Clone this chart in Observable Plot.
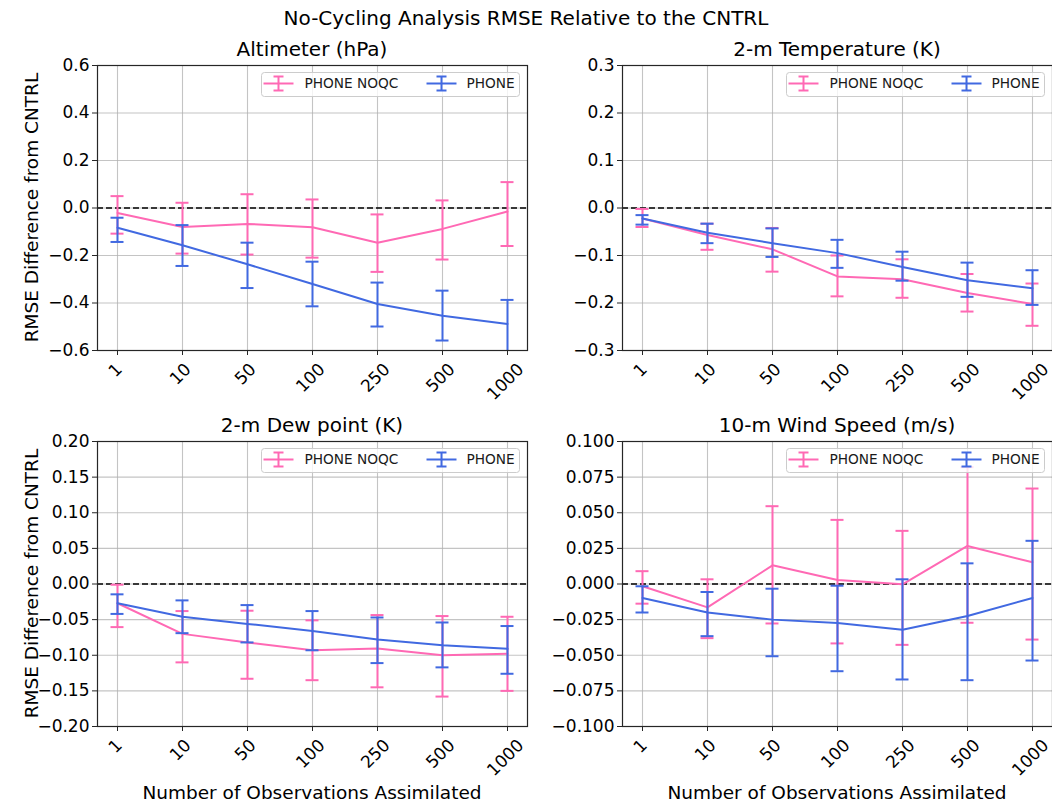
<!DOCTYPE html>
<html><head><meta charset="utf-8">
<script src="https://cdn.jsdelivr.net/npm/d3@7"></script>
<script src="https://cdn.jsdelivr.net/npm/@observablehq/plot@0.6"></script>
<style>
html,body{margin:0;padding:0;background:#fff;overflow:hidden;}
#page{position:relative;width:1052px;height:804px;overflow:hidden;font-family:"DejaVu Sans",sans-serif;background:#fff;}
#page svg{position:absolute;overflow:visible;}
</style></head><body><div id="page"></div>
<script>
// ---------- data ----------
const observations = ["1", "10", "50", "100", "250", "500", "1000"];
const seriesNames = ["PHONE NOQC", "PHONE"];

const altTicks = [-0.6, -0.4, -0.2, 0.0, 0.2, 0.4, 0.6];
const altNoqc   = [-0.021, -0.080, -0.067, -0.081, -0.146, -0.088, -0.015];
const altNoqcLo = [-0.108, -0.192, -0.196, -0.209, -0.269, -0.217, -0.160];
const altNoqcHi = [0.050, 0.022, 0.058, 0.036, -0.027, 0.032, 0.109];
const altPhone   = [-0.083, -0.157, -0.237, -0.320, -0.404, -0.454, -0.488];
const altPhoneLo = [-0.143, -0.244, -0.337, -0.414, -0.499, -0.558, -0.620];
const altPhoneHi = [-0.041, -0.072, -0.146, -0.226, -0.314, -0.348, -0.387];

const tmpTicks = [-0.3, -0.2, -0.1, 0.0, 0.1, 0.2, 0.3];
const tmpNoqc   = [-0.022, -0.057, -0.087, -0.144, -0.150, -0.179, -0.202];
const tmpNoqcLo = [-0.040, -0.088, -0.134, -0.186, -0.189, -0.218, -0.248];
const tmpNoqcHi = [-0.002, -0.033, -0.042, -0.100, -0.108, -0.139, -0.159];
const tmpPhone   = [-0.022, -0.052, -0.074, -0.095, -0.124, -0.152, -0.169];
const tmpPhoneLo = [-0.035, -0.074, -0.103, -0.126, -0.153, -0.187, -0.204];
const tmpPhoneHi = [-0.015, -0.033, -0.043, -0.067, -0.092, -0.115, -0.131];

const dewTicks = [-0.20, -0.15, -0.10, -0.05, 0.00, 0.05, 0.10, 0.15, 0.20];
const dewNoqc   = [-0.027, -0.070, -0.082, -0.093, -0.0905, -0.100, -0.098];
const dewNoqcLo = [-0.0605, -0.110, -0.133, -0.135, -0.145, -0.158, -0.150];
const dewNoqcHi = [-0.001, -0.038, -0.0375, -0.051, -0.0436, -0.045, -0.046];
const dewPhone   = [-0.027, -0.046, -0.056, -0.066, -0.078, -0.086, -0.091];
const dewPhoneLo = [-0.042, -0.069, -0.082, -0.093, -0.111, -0.117, -0.126];
const dewPhoneHi = [-0.0145, -0.023, -0.0296, -0.038, -0.047, -0.054, -0.059];

const wndTicks = [-0.100, -0.075, -0.050, -0.025, 0.000, 0.025, 0.050, 0.075, 0.100];
const wndNoqc   = [-0.0016, -0.0164, 0.0131, 0.0028, -0.0002, 0.0267, 0.0152];
const wndNoqcLo = [-0.0138, -0.038, -0.0277, -0.0417, -0.0427, -0.0272, -0.039];
const wndNoqcHi = [0.009, 0.0033, 0.0546, 0.045, 0.0373, 0.082, 0.067];
const wndPhone   = [-0.0098, -0.020, -0.025, -0.0274, -0.0321, -0.0225, -0.0098];
const wndPhoneLo = [-0.020, -0.0366, -0.0507, -0.0612, -0.067, -0.0675, -0.0537];
const wndPhoneHi = [-0.0016, -0.0056, -0.0033, -0.0012, 0.0033, 0.0145, 0.0303];

// ---------- layout / style ----------
const PINK = "#ff69b4", BLUE = "#4169e1";
const FONT = "DejaVu Sans";
const FW = 430, FH = 285;
const ML = 80, MR = 12, MT = 30, MB = 70;

const panels = [
  {title: "Altimeter (hPa)", fx: 97, fy: 65, ticks: altTicks, fmt: ".1f",
   noqc: [altNoqc, altNoqcLo, altNoqcHi], phone: [altPhone, altPhoneLo, altPhoneHi], ylab: true, xlab: false},
  {title: "2-m Temperature (K)", fx: 622, fy: 65, ticks: tmpTicks, fmt: ".1f",
   noqc: [tmpNoqc, tmpNoqcLo, tmpNoqcHi], phone: [tmpPhone, tmpPhoneLo, tmpPhoneHi], ylab: false, xlab: false},
  {title: "2-m Dew point (K)", fx: 97, fy: 441, ticks: dewTicks, fmt: ".2f",
   noqc: [dewNoqc, dewNoqcLo, dewNoqcHi], phone: [dewPhone, dewPhoneLo, dewPhoneHi], ylab: true, xlab: true},
  {title: "10-m Wind Speed (m/s)", fx: 622, fy: 441, ticks: wndTicks, fmt: ".3f",
   noqc: [wndNoqc, wndNoqcLo, wndNoqcHi], phone: [wndPhone, wndPhoneLo, wndPhoneHi], ylab: false, xlab: true}
];

const page = document.getElementById("page");

function rowsOf([v, lo, hi]) {
  return observations.map((o, i) => ({obs: o, v: v[i], lo: lo[i], hi: hi[i]}));
}

function seriesMarks(rows, color) {
  const common = {stroke: color, strokeWidth: 2, clip: true};
  return [
    Plot.ruleX(rows, {...common, x: "obs", y1: "lo", y2: "hi"}),
    Plot.ruleY(rows, {...common, x1: "obs", x2: "obs", y: "lo", insetLeft: -6.5, insetRight: -6.5}),
    Plot.ruleY(rows, {...common, x1: "obs", x2: "obs", y: "hi", insetLeft: -6.5, insetRight: -6.5}),
    Plot.line(rows, {x: "obs", y: "v", stroke: color, strokeWidth: 2, clip: true})
  ];
}

const TICKFS = 17;
function xLabelMarks() {
  const cw = 0.636 * TICKFS;
  return d3.groups(observations, d => d.length).map(([n, labs]) =>
    Plot.text(labs, {
      x: d => d, text: d => d, frameAnchor: "bottom",
      dx: -2,
      dy: 10 + 0.7071 * (n * cw + TICKFS) / 2,
      rotate: -45, textAnchor: "middle", lineAnchor: "middle",
      fontSize: TICKFS, fill: "black"
    }));
}

for (const p of panels) {
  const dom = [p.ticks[0], p.ticks[p.ticks.length - 1]];
  const chart = Plot.plot({
    width: ML + FW + MR, height: MT + FH + MB,
    marginLeft: ML, marginRight: MR, marginTop: MT, marginBottom: MB,
    style: {fontFamily: FONT, fontSize: TICKFS + "px", color: "black", background: "transparent", overflow: "visible"},
    x: {type: "point", domain: observations, padding: 0.3},
    y: {domain: dom},
    marks: [
      Plot.gridX(observations, {x: d => d, stroke: "#b0b0b0", strokeOpacity: 0.75, strokeWidth: 1.1}),
      Plot.gridY(p.ticks, {y: d => d, stroke: "#b0b0b0", strokeOpacity: 0.75, strokeWidth: 1.1}),
      Plot.ruleY([0], {stroke: "black", strokeWidth: 1.6, strokeDasharray: "6,3"}),
      ...seriesMarks(rowsOf(p.noqc), PINK),
      ...seriesMarks(rowsOf(p.phone), BLUE),
      Plot.frame({stroke: "#262626", strokeWidth: 1.2}),
      Plot.axisY(p.ticks, {tickSize: 5, tickPadding: 3, fontSize: TICKFS, tickFormat: d3.format(p.fmt), label: null, stroke: "#262626"}),
      Plot.axisX(observations, {tickSize: 5, tickFormat: () => "", label: null, stroke: "#262626"}),
      ...xLabelMarks()
    ]
  });
  chart.style.left = (p.fx - ML) + "px";
  chart.style.top = (p.fy - MT) + "px";
  page.appendChild(chart);
}

// ---------- overlay: titles, axis labels, legends ----------
const ov = d3.select(page).append("svg")
  .attr("width", 1052).attr("height", 804)
  .style("left", "0px").style("top", "0px")
  .attr("font-family", FONT);

ov.append("text").attr("x", 526).attr("y", 25).attr("text-anchor", "middle")
  .attr("font-size", 20).attr("fill", "black")
  .text("No-Cycling Analysis RMSE Relative to the CNTRL");

const colors = [PINK, BLUE];
for (const p of panels) {
  ov.append("text").attr("x", p.fx + FW / 2).attr("y", p.fy - 9).attr("text-anchor", "middle")
    .attr("font-size", 20).attr("fill", "black").text(p.title);
  if (p.ylab) {
    ov.append("text").attr("transform", `translate(38,${p.fy + FH / 2}) rotate(-90)`)
      .attr("text-anchor", "middle").attr("font-size", 18.5).attr("fill", "black")
      .text("RMSE Difference from CNTRL");
  }
  if (p.xlab) {
    ov.append("text").attr("x", p.fx + FW / 2).attr("y", 799).attr("text-anchor", "middle")
      .attr("font-size", 18.5).attr("fill", "black").text("Number of Observations Assimilated");
  }
  // legend
  const lx = p.fx + 164.5, ly = p.fy + 7.5;
  const g = ov.append("g").attr("transform", `translate(${lx},${ly})`);
  g.append("rect").attr("width", 258).attr("height", 24).attr("rx", 3)
    .attr("fill", "white").attr("fill-opacity", 0.8).attr("stroke", "#cccccc").attr("stroke-width", 1);
  const items = [{ix: 2, tx: 43}, {ix: 165, tx: 205}];
  items.forEach((it, k) => {
    const c = colors[k], cx = it.ix + 15, cy = 11;
    g.append("line").attr("x1", it.ix).attr("x2", it.ix + 30).attr("y1", cy).attr("y2", cy).attr("stroke", c).attr("stroke-width", 2);
    g.append("line").attr("x1", cx).attr("x2", cx).attr("y1", cy - 7).attr("y2", cy + 7).attr("stroke", c).attr("stroke-width", 2);
    g.append("line").attr("x1", cx - 5).attr("x2", cx + 5).attr("y1", cy - 7).attr("y2", cy - 7).attr("stroke", c).attr("stroke-width", 2);
    g.append("line").attr("x1", cx - 5).attr("x2", cx + 5).attr("y1", cy + 7).attr("y2", cy + 7).attr("stroke", c).attr("stroke-width", 2);
    g.append("text").attr("x", it.tx).attr("y", 15.5).attr("font-size", 13.7).attr("fill", "#1a1a1a").text(seriesNames[k]);
  });
}
</script></body></html>
